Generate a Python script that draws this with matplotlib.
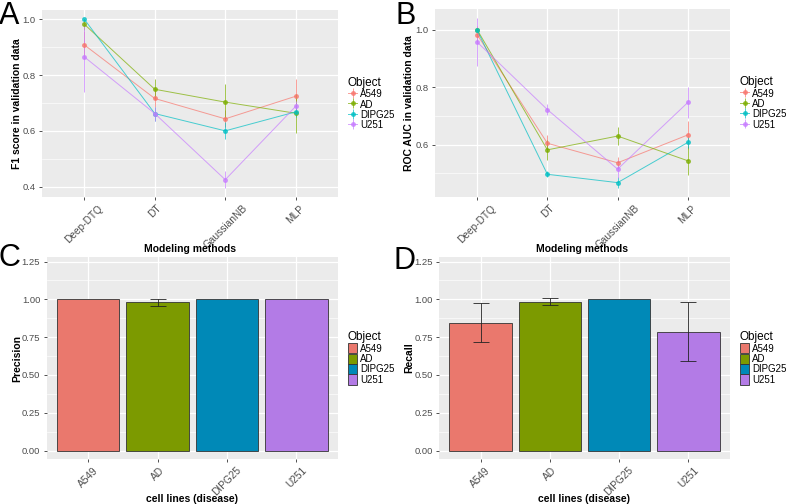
import matplotlib
matplotlib.use("Agg")
import matplotlib.pyplot as plt
import numpy as np
from matplotlib.ticker import MultipleLocator

plt.rcParams['font.family'] = ['Liberation Sans', 'DejaVu Sans']

# data
methods = ["Deep-DTQ", "DT", "GaussianNB", "MLP"]
objects = ["A549", "AD", "DIPG25", "U251"]

# F1 score (panel A)
f1_A549 = [0.908, 0.716, 0.643, 0.724]
f1_AD = [0.982, 0.749, 0.703, 0.663]
f1_DIPG25 = [1.000, 0.662, 0.600, 0.668]
f1_U251 = [0.865, 0.662, 0.425, 0.688]
f1_A549_sd = [0.05, 0.03, 0.03, 0.06]
f1_AD_sd = [0.02, 0.035, 0.065, 0.07]
f1_DIPG25_sd = [0.0, 0.025, 0.03, 0.02]
f1_U251_sd = [0.125, 0.025, 0.03, 0.02]

# ROC AUC (panel B)
auc_A549 = [0.983, 0.605, 0.537, 0.634]
auc_AD = [1.000, 0.582, 0.630, 0.544]
auc_DIPG25 = [0.998, 0.497, 0.468, 0.608]
auc_U251 = [0.957, 0.722, 0.515, 0.747]
auc_A549_sd = [0.03, 0.03, 0.02, 0.05]
auc_AD_sd = [0.0, 0.035, 0.03, 0.05]
auc_DIPG25_sd = [0.0, 0.01, 0.02, 0.02]
auc_U251_sd = [0.085, 0.02, 0.03, 0.055]

# precision / recall (panels C, D)
precision = [1.0, 0.98, 1.0, 1.0]
precision_sd = [0.0, 0.025, 0.0, 0.0]
recall = [0.845, 0.985, 1.0, 0.785]
recall_sd = [0.13, 0.025, 0.0, 0.195]

line_colors = ["#F8766D", "#7CAE00", "#00BFC4", "#C77CFF"]
bar_colors = ["#EA786D", "#7C9A00", "#0089B7", "#B37BE6"]

W, H = 790, 504


def gg_style(ax):
    """grey ggplot-like panel"""
    ax.set_facecolor("#EBEBEB")
    for s in ax.spines.values():
        s.set_visible(False)
    ax.grid(which="major", color="white", linewidth=0.9)
    ax.grid(which="minor", axis="y", color="white", linewidth=0.45)
    ax.set_axisbelow(True)
    ax.tick_params(which="major", colors="#333333", labelcolor="#4D4D4D",
                   length=2.5, width=0.6, labelsize=6.8, pad=2)
    ax.tick_params(axis="x", labelsize=7.3)
    ax.tick_params(which="minor", length=0)


def place_labels(ax, bx, xlab, ylab, xlab_top, ylab_right):
    # position axis titles like the reference (pixel values)
    x0, x1, y0, y1 = bx
    ax.set_xlabel(xlab, fontsize=7.5, fontweight="bold")
    ax.set_ylabel(ylab, fontsize=7.5, fontweight="bold")
    ax.xaxis.set_label_coords(0.5, (y1 - xlab_top) / (y1 - y0))
    ax.yaxis.set_label_coords((ylab_right - x0) / (x1 - x0), 0.5)


def add_legend(ax, handles):
    ax.legend(handles, objects, title="Object", loc="center left",
              bbox_to_anchor=(1.0, 0.5), frameon=False, fontsize=7,
              title_fontsize=8.5, handlelength=1.0, handleheight=1.25,
              handletextpad=0.25, labelspacing=0.0, alignment="left",
              borderaxespad=0.6)


def lineplot(ax, ys, sds, ylim):
    x = np.arange(len(methods))
    handles = []
    for name, y, sd, c in zip(objects, ys, sds, line_colors):
        h = ax.errorbar(x, y, yerr=sd, fmt="-o", color=c, markersize=2.6,
                        linewidth=0.7, elinewidth=0.7, capsize=0, alpha=0.7)
        handles.append(h)
    gg_style(ax)
    ax.set_xlim(-0.6, len(methods) - 0.4)
    ax.set_ylim(*ylim)
    ax.yaxis.set_major_locator(MultipleLocator(0.2))
    ax.yaxis.set_minor_locator(MultipleLocator(0.1))
    ax.set_xticks(x)
    ax.set_xticklabels(methods, rotation=45, ha="center", va="top")
    add_legend(ax, handles)


def barchart(ax, vals, sds):
    x = np.arange(len(objects))
    bars = ax.bar(x, vals, width=0.9, color=bar_colors, edgecolor="#333333",
                  linewidth=0.6)
    for xi, v, s in zip(x, vals, sds):
        if s > 0:
            ax.errorbar(xi, v, yerr=s, fmt="none", ecolor="#222222",
                        elinewidth=0.6, capsize=5.5, capthick=0.6)
    gg_style(ax)
    ax.set_xlim(-0.6, len(objects) - 0.4)
    ax.set_ylim(-0.056, 1.28)
    ax.yaxis.set_minor_locator(MultipleLocator(0.125))
    ax.set_yticks([0, 0.25, 0.5, 0.75, 1.0, 1.25])
    ax.set_yticklabels(["0.00", "0.25", "0.50", "0.75", "1.00", "1.25"])
    ax.set_xticks(x)
    ax.set_xticklabels(objects, rotation=45, ha="center", va="top")
    add_legend(ax, bars)


fig = plt.figure(figsize=(W / 100, H / 100), dpi=100)


def box(b):
    # pixel box -> figure fraction
    x0, x1, y0, y1 = b
    return [x0 / W, 1 - y1 / H, (x1 - x0) / W, (y1 - y0) / H]


boxA = (42, 338, 10, 197)
boxB = (435, 730, 9, 197)
boxC = (46.5, 338, 257, 459)
boxD = (439, 730, 257, 459)
axA = fig.add_axes(box(boxA))
axB = fig.add_axes(box(boxB))
axC = fig.add_axes(box(boxC))
axD = fig.add_axes(box(boxD))

lineplot(axA, [f1_A549, f1_AD, f1_DIPG25, f1_U251],
         [f1_A549_sd, f1_AD_sd, f1_DIPG25_sd, f1_U251_sd], (0.363, 1.033))
lineplot(axB, [auc_A549, auc_AD, auc_DIPG25, auc_U251],
         [auc_A549_sd, auc_AD_sd, auc_DIPG25_sd, auc_U251_sd], (0.418, 1.072))
barchart(axC, precision, precision_sd)
barchart(axD, recall, recall_sd)

place_labels(axA, boxA, "Modeling methods", "F1 score in validation data", 244, 22)
place_labels(axB, boxB, "Modeling methods", "ROC AUC in validation data", 244, 414)
place_labels(axC, boxC, "cell lines (disease)", "Precision", 494, 22)
place_labels(axD, boxD, "cell lines (disease)", "Recall", 494, 414)

# panel letters
for lab, px, py in [("A", -1, 1), ("B", 396, 1), ("C", -1, 243), ("D", 393, 246)]:
    fig.text(px / W, 1 - py / H, lab, fontsize=22, va="top", ha="left")

plt.savefig("out.png", dpi=100)
